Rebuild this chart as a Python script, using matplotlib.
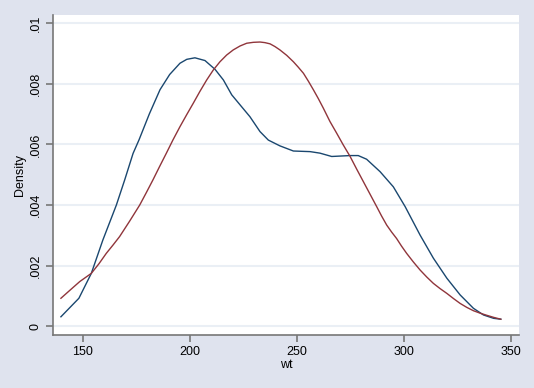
import matplotlib
matplotlib.use("Agg")
import matplotlib.pyplot as plt

# kernel density estimate of wt
kde_x = [139.7, 148.1, 153.9, 159.3, 165.6, 169.5, 173.4, 176.2, 181.0, 186.0,
         190.5, 195.3, 198.5, 202.3, 207.0, 211.7, 215.6, 219.5, 224.1, 228.0,
         232.7, 236.6, 242.0, 248.3, 256.1, 260.7, 266.2, 274.8, 278.6, 282.5,
         288.8, 295.0, 300.5, 307.5, 313.7, 320.0, 326.2, 332.4, 337.1, 341.8, 345.2]
kde_y = [0.00032, 0.00093, 0.00175, 0.00285, 0.00400, 0.00483, 0.00570, 0.00615, 0.00700, 0.00780,
         0.00830, 0.00867, 0.00880, 0.00885, 0.00876, 0.00847, 0.00812, 0.00763, 0.00724, 0.00691,
         0.00642, 0.00614, 0.00595, 0.00578, 0.00576, 0.00571, 0.00560, 0.00563, 0.00563, 0.00551,
         0.00510, 0.00460, 0.00395, 0.00301, 0.00225, 0.00159, 0.00104, 0.00060, 0.00038, 0.00027, 0.00024]

# normal density overlay
norm_x = [139.7, 144.0, 148.5, 153.9, 157.5, 160.9, 164.0, 167.1, 171.8, 176.5,
          179.6, 182.7, 185.8, 188.9, 192.0, 195.3, 198.4, 201.5, 204.6, 207.8,
          210.9, 214.0, 217.1, 220.2, 223.4, 226.5, 229.6, 232.7, 235.0, 237.4,
          239.7, 242.0, 245.2, 248.3, 250.6, 253.0, 255.3, 257.7, 260.0, 262.3,
          265.4, 268.5, 271.6, 274.8, 277.9, 281.0, 284.1, 287.2, 289.5, 291.9,
          294.2, 296.5, 298.8, 301.2, 304.3, 307.5, 310.6, 313.7, 316.8, 320.0,
          323.1, 326.2, 329.3, 332.4, 335.5, 338.6, 341.9, 345.2]
norm_y = [0.00093, 0.00120, 0.00148, 0.00175, 0.00207, 0.00241, 0.00268, 0.00296, 0.00347, 0.00400,
          0.00441, 0.00483, 0.00527, 0.00570, 0.00614, 0.00658, 0.00697, 0.00735, 0.00774, 0.00812,
          0.00845, 0.00872, 0.00894, 0.00911, 0.00924, 0.00933, 0.00936, 0.00937, 0.00935, 0.00931,
          0.00922, 0.00911, 0.00893, 0.00872, 0.00854, 0.00834, 0.00808, 0.00779, 0.00750, 0.00719,
          0.00675, 0.00637, 0.00598, 0.00560, 0.00518, 0.00477, 0.00436, 0.00395, 0.00364, 0.00334,
          0.00311, 0.00290, 0.00265, 0.00241, 0.00213, 0.00186, 0.00163, 0.00142, 0.00125, 0.00109,
          0.00092, 0.00076, 0.00063, 0.00052, 0.00044, 0.00037, 0.00030, 0.00024]

xticks = [150, 200, 250, 300, 350]
yticks = [0, 0.002, 0.004, 0.006, 0.008, 0.01]
ytick_labels = ['0', '.002', '.004', '.006', '.008', '.01']

plt.rcParams['font.family'] = ['Liberation Sans', 'DejaVu Sans']

fig = plt.figure(figsize=(5.34, 3.88), dpi=100, facecolor='#dfe3ee')
ax = fig.add_axes([53 / 534, 53 / 388, 466 / 534, 320 / 388])
ax.set_facecolor('white')

ax.plot(kde_x, kde_y, color='#1a476f', linewidth=1.0, zorder=3)
ax.plot(norm_x, norm_y, color='#90353b', linewidth=1.0, zorder=3)

ax.set_xlim(136.0, 353.7)
ax.set_ylim(-0.00028, 0.01026)
ax.set_xticks(xticks)
ax.set_xticklabels([str(t) for t in xticks])
ax.set_yticks(yticks)
ax.set_yticklabels(ytick_labels, rotation=90, va='center')

ax.grid(axis='y', color='#eaeff5', linewidth=1.5, zorder=0)
ax.set_axisbelow(True)

for s in ['top', 'right']:
    ax.spines[s].set_visible(False)
for s in ['left', 'bottom']:
    ax.spines[s].set_color('#777777')
    ax.spines[s].set_linewidth(1.2)

ax.tick_params(axis='both', direction='out', length=5, width=1.2, color='#777777',
               labelsize=9, labelcolor='black', pad=3)

ax.set_xlabel('wt', fontsize=9, labelpad=1)
ax.set_ylabel('Density', fontsize=9, labelpad=3)

fig.savefig('out.png', dpi=100, facecolor=fig.get_facecolor())
